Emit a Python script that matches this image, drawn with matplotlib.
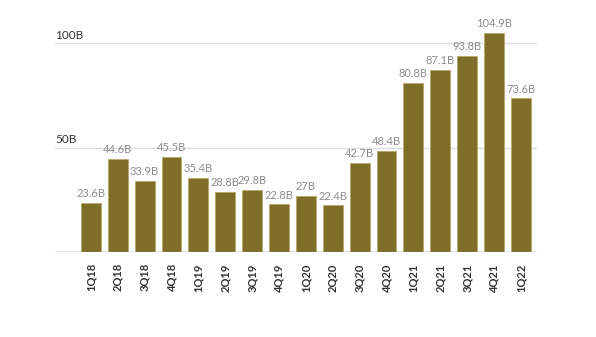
import matplotlib
matplotlib.use("Agg")
import matplotlib.pyplot as plt

plt.rcParams['font.family'] = ['Lato', 'DejaVu Sans']

quarters = ['1Q18', '2Q18', '3Q18', '4Q18', '1Q19', '2Q19', '3Q19', '4Q19',
            '1Q20', '2Q20', '3Q20', '4Q20', '1Q21', '2Q21', '3Q21', '4Q21', '1Q22']
values = [23.6, 44.6, 33.9, 45.5, 35.4, 28.8, 29.8, 22.8,
          27, 22.4, 42.7, 48.4, 80.8, 87.1, 93.8, 104.9, 73.6]
labels = ['23.6B', '44.6B', '33.9B', '45.5B', '35.4B', '28.8B', '29.8B', '22.8B',
          '27B', '22.4B', '42.7B', '48.4B', '80.8B', '87.1B', '93.8B', '104.9B', '73.6B']
ytick_vals = [50, 100]
ytick_labels = ['50B', '100B']

fig = plt.figure(figsize=(5.96, 3.37), dpi=100)
ax = fig.add_axes([0.092, 0.252, 0.809, 0.682])

x = list(range(len(quarters)))
ax.bar(x, values, width=0.74, color='#7f6d2a', edgecolor='#b8a868', linewidth=0.6, zorder=3)

# value labels above bars
for xi, v, lab in zip(x, values, labels):
    ax.text(xi, v + 1.8, lab, ha='center', va='bottom', fontsize=8, color='#8c8c8c')

for yv, yl in zip(ytick_vals, ytick_labels):
    ax.axhline(yv, color='#dddddd', linewidth=1, zorder=1)
    ax.text(-1.34, yv + 1.2, yl, ha='left', va='bottom', fontsize=8.5, color='#333333')

ax.axhline(0, color='#888888', linewidth=1, zorder=4)

ax.set_xlim(-1.34, 16.6)
ax.set_ylim(0, 110)
ax.set_yticks([])
ax.set_xticks(x)
ax.set_xticklabels(quarters, rotation=90, fontsize=8, fontweight='bold', color='#333333')
ax.tick_params(axis='x', length=0, pad=8)
for s in ax.spines.values():
    s.set_visible(False)

fig.savefig('out.png', dpi=100)
